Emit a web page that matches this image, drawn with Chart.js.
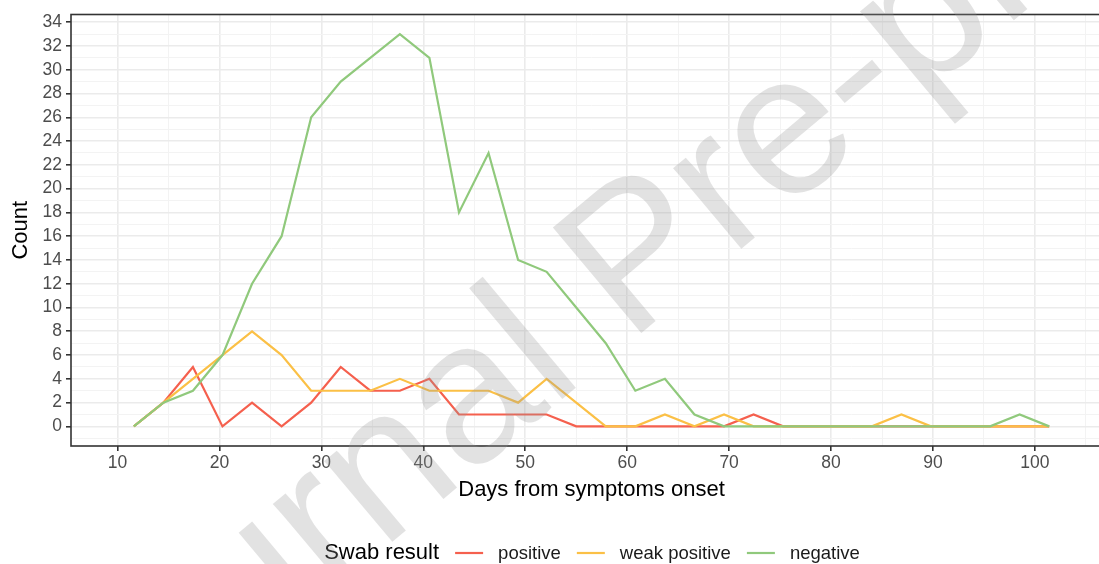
<!DOCTYPE html>
<html>
<head>
<meta charset="utf-8">
<script src="https://cdn.jsdelivr.net/npm/chart.js@4.4.1/dist/chart.umd.min.js"></script>
<style>
  html, body { margin: 0; padding: 0; background: #fff; overflow: hidden; }
  #wrap { position: absolute; left: 0; top: 0; width: 1113px; height: 564px; }
</style>
</head>
<body>
<div id="wrap"><canvas id="myChart" width="1113" height="564"></canvas></div>
<script>
// bin centres (days) and counts per swab result
const days = [11.6, 14.5, 17.4, 20.3, 23.2, 26.1, 29.0, 31.9, 34.8, 37.7, 40.6, 43.5, 46.4, 49.3, 52.1, 55.0,
              57.9, 60.8, 63.7, 66.6, 69.5, 72.4, 75.3, 78.2, 81.1, 84.0, 86.9, 89.8, 92.7, 95.6, 98.5, 101.4];
const positive     = [0, 2, 5, 0, 2, 0, 2, 5, 3, 3, 4, 1, 1, 1, 1, 0, 0, 0, 0, 0, 0, 1, 0, 0, 0, 0, 0, 0, 0, 0, 0, 0];
const weakPositive = [0, 2, 4, 6, 8, 6, 3, 3, 3, 4, 3, 3, 3, 2, 4, 2, 0, 0, 1, 0, 1, 0, 0, 0, 0, 0, 1, 0, 0, 0, 0, 0];
const negative     = [0, 2, 3, 6, 12, 16, 26, 29, 31, 33, 31, 18, 23, 14, 13, 10, 7, 3, 4, 1, 0, 0, 0, 0, 0, 0, 0, 0, 0, 0, 1, 0];

const seriesLabels = ['positive', 'weak positive', 'negative'];
const seriesColors = ['#F5604E', '#FBC046', '#90C97C'];

const xTicks = [10, 20, 30, 40, 50, 60, 70, 80, 90, 100];
const xGrid = [10, 15, 20, 25, 30, 35, 40, 45, 50, 55, 60, 65, 70, 75, 80, 85, 90, 95, 100, 105];
const yTicks = [0, 2, 4, 6, 8, 10, 12, 14, 16, 18, 20, 22, 24, 26, 28, 30, 32, 34];
const yGrid = [-1, 0, 1, 2, 3, 4, 5, 6, 7, 8, 9, 10, 11, 12, 13, 14, 15, 16, 17, 18, 19, 20, 21, 22, 23, 24,
               25, 26, 27, 28, 29, 30, 31, 32, 33, 34];

const FONT = '"Liberation Sans", Arial, Helvetica, sans-serif';

const toPoints = (vals) => vals.map((v, i) => ({ x: days[i], y: v }));

// panel border, legend at the bottom and the watermark
const extras = {
  id: 'extras',
  afterDatasetsDraw(chart) {
    const { ctx, chartArea: a } = chart;
    ctx.save();
    ctx.strokeStyle = '#333333';
    ctx.lineWidth = 1.6;
    ctx.strokeRect(a.left, a.top, a.right - a.left, a.bottom - a.top);
    ctx.restore();
  },
  afterDraw(chart) {
    const { ctx } = chart;
    ctx.save();
    // legend
    const y = 553;
    const titleFont = '22px ' + FONT;
    const itemFont = '18.5px ' + FONT;
    const keyLen = 28, gapTitle = 16, gapKey = 15, gapItem = 16;
    ctx.font = titleFont;
    let total = ctx.measureText('Swab result').width + gapTitle;
    ctx.font = itemFont;
    const sets = chart.data.datasets.slice().sort((p, q) => q.order - p.order);
    sets.forEach((d, i) => {
      total += keyLen + gapKey + ctx.measureText(d.label).width + (i < sets.length - 1 ? gapItem : 0);
    });
    let x = 592 - total / 2;
    ctx.textBaseline = 'middle';
    ctx.textAlign = 'left';
    ctx.fillStyle = '#000';
    ctx.font = titleFont;
    ctx.fillText('Swab result', x, y);
    x += ctx.measureText('Swab result').width + gapTitle;
    ctx.font = itemFont;
    sets.forEach((d) => {
      ctx.strokeStyle = d.borderColor;
      ctx.lineWidth = 2.2;
      ctx.beginPath();
      ctx.moveTo(x, y);
      ctx.lineTo(x + keyLen, y);
      ctx.stroke();
      x += keyLen + gapKey;
      ctx.fillStyle = '#1a1a1a';
      ctx.fillText(d.label, x, y + 1);
      x += ctx.measureText(d.label).width + gapItem;
    });
    // watermark
    ctx.translate(640, 262);
    ctx.rotate(-40 * Math.PI / 180);
    ctx.font = '200px ' + FONT;
    ctx.fillStyle = 'rgba(150,150,150,0.28)';
    ctx.textAlign = 'center';
    ctx.fillText('Journal Pre-proof', 0, 0);
    ctx.restore();
  }
};

new Chart(document.getElementById('myChart'), {
  type: 'line',
  data: {
    datasets: [
      { label: seriesLabels[0], data: toPoints(positive), borderColor: seriesColors[0], order: 3 },
      { label: seriesLabels[1], data: toPoints(weakPositive), borderColor: seriesColors[1], order: 2 },
      { label: seriesLabels[2], data: toPoints(negative), borderColor: seriesColors[2], order: 1 }
    ]
  },
  options: {
    responsive: false,
    animation: false,
    events: [],
    elements: {
      line: { borderWidth: 2.2, tension: 0, fill: false },
      point: { radius: 0 }
    },
    layout: { padding: { top: 14, right: 1, bottom: 50, left: 0 } },
    plugins: {
      legend: { display: false },
      tooltip: { enabled: false }
    },
    scales: {
      x: {
        type: 'linear',
        min: 5.44,
        max: 107.56,
        afterBuildTicks: (s) => { s.ticks = xGrid.map(v => ({ value: v })); },
        afterFit: (s) => { s.height = 68; },
        border: { display: false },
        grid: {
          color: (c) => xTicks.includes(c.tick.value) ? '#EBEBEB' : '#F3F3F3',
          lineWidth: (c) => xTicks.includes(c.tick.value) ? 1.6 : 1,
          tickColor: (c) => xTicks.includes(c.tick.value) ? '#333333' : 'rgba(0,0,0,0)',
          tickLength: 5,
          tickWidth: 1.6
        },
        ticks: {
          autoSkip: false,
          maxRotation: 0,
          padding: 2,
          color: '#4D4D4D',
          font: { family: FONT, size: 17.5 },
          callback: (v) => xTicks.includes(v) ? String(v) : ''
        },
        title: {
          display: true,
          text: 'Days from symptoms onset',
          color: '#000',
          font: { family: FONT, size: 22 },
          padding: { top: 0, bottom: 11 }
        }
      },
      y: {
        type: 'linear',
        min: -1.65,
        max: 34.65,
        afterBuildTicks: (s) => { s.ticks = yGrid.map(v => ({ value: v })); },
        afterFit: (s) => { s.width = 71; },
        border: { display: false },
        grid: {
          color: (c) => yTicks.includes(c.tick.value) ? '#EBEBEB' : '#F3F3F3',
          lineWidth: (c) => yTicks.includes(c.tick.value) ? 1.6 : 1,
          tickColor: (c) => yTicks.includes(c.tick.value) ? '#333333' : 'rgba(0,0,0,0)',
          tickLength: 5,
          tickWidth: 1.6
        },
        ticks: {
          autoSkip: false,
          padding: 4,
          color: '#4D4D4D',
          font: { family: FONT, size: 17.5 },
          callback: (v) => yTicks.includes(v) ? String(v) : ''
        },
        title: {
          display: true,
          text: 'Count',
          color: '#000',
          font: { family: FONT, size: 22 },
          padding: { top: 8, bottom: 0 }
        }
      }
    }
  },
  plugins: [extras]
});
</script>
</body>
</html>
